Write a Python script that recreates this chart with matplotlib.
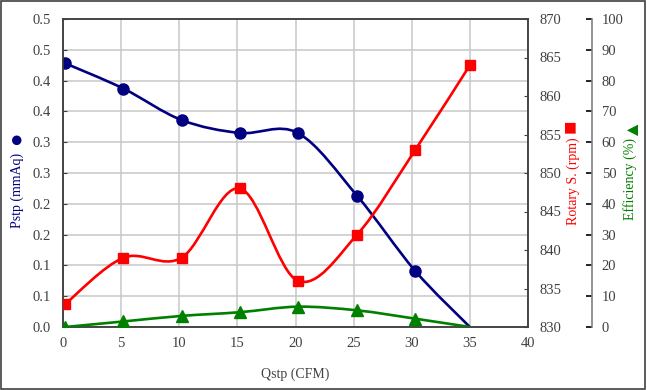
import numpy as np
import matplotlib
matplotlib.use('Agg')
import matplotlib.pyplot as plt
from matplotlib.path import Path
from matplotlib.patches import PathPatch, Rectangle

# flow (CFM)
qstp = [0.2, 5.2, 10.2, 15.2, 20.2, 25.3, 30.3, 35.0]
# static pressure (mmAq)
pstp = [0.428, 0.387, 0.336, 0.315, 0.315, 0.213, 0.091, 0.0]
# rotary speed (rpm)
rpm = [833, 839, 839, 848, 836, 842, 853, 864]
# efficiency (%)
eff = [0.0, 1.8, 3.6, 4.8, 6.6, 5.4, 2.7, 0.0]

p_ticks = [0.0, 0.05, 0.1, 0.15, 0.2, 0.25, 0.3, 0.35, 0.4, 0.45, 0.5]
p_ticklabels = ['0.0', '0.1', '0.1', '0.2', '0.2', '0.3', '0.3', '0.4', '0.4', '0.5', '0.5']
rpm_ticks = [830, 835, 840, 845, 850, 855, 860, 865, 870]
eff_ticks = [0, 10, 20, 30, 40, 50, 60, 70, 80, 90, 100]
q_ticks = [0, 5, 10, 15, 20, 25, 30, 35, 40]

NAVY = '#000080'
RED = '#ff0000'
GREEN = '#008000'
GREY = '#404040'
W, H = 647, 390

plt.rcParams['font.family'] = ['Liberation Serif', 'DejaVu Sans']


def smooth_line(ax, x, y, color):
    # excel-like smoothed line: cubic bezier segments through the points
    pts = np.column_stack([x, y]).astype(float)
    n = len(pts)
    verts = [pts[0]]
    codes = [Path.MOVETO]
    for i in range(n - 1):
        p0 = pts[max(i - 1, 0)]
        p1 = pts[i]
        p2 = pts[i + 1]
        p3 = pts[min(i + 2, n - 1)]
        verts += [p1 + (p2 - p0) / 6, p2 - (p3 - p1) / 6, p2]
        codes += [Path.CURVE4] * 3
    ax.add_patch(PathPatch(Path(verts, codes), facecolor='none',
                           edgecolor=color, lw=1.9, zorder=2))


def fig_text(x, y, s, **kw):
    # place text by pixel position (from top-left)
    fig.text(x / W, 1 - y / H, s, ha='center', va='center', rotation=90, **kw)


fig = plt.figure(figsize=(W / 100, H / 100), dpi=100)
ax1 = fig.add_axes([63 / W, 1 - 327 / H, 465 / W, 308 / H])
ax2 = ax1.twinx()
ax3 = ax1.twinx()

# no marker drawn on the last (zero) point of pressure and efficiency
smooth_line(ax1, qstp, pstp, NAVY)
ax1.plot(qstp, pstp, 'o', color=NAVY, ms=8, zorder=3, markevery=slice(0, -1))
smooth_line(ax2, qstp, rpm, RED)
ax2.plot(qstp, rpm, 's', color=RED, ms=7.5, zorder=3)
smooth_line(ax3, qstp, eff, GREEN)
ax3.plot(qstp, eff, '^', color=GREEN, ms=8, zorder=3, markevery=slice(0, -1))

ax1.set_xlim(0, 40)
ax1.set_ylim(0, 0.5)
ax2.set_ylim(830, 870)
ax3.set_ylim(0, 100)

ax1.set_xticks(q_ticks)
ax1.set_yticks(p_ticks)
ax1.set_yticklabels(p_ticklabels)
ax2.set_yticks(rpm_ticks)
ax3.set_yticks(eff_ticks)

ax1.grid(True, color='#c8c8c8', lw=1.1)
ax1.set_axisbelow(True)

ax1.tick_params(axis='x', direction='in', length=0, pad=7, labelsize=10.5, labelcolor=GREY)
ax1.tick_params(axis='y', direction='in', length=3, pad=9, labelsize=10.5, labelcolor=GREY, color=GREY)
ax2.tick_params(axis='y', direction='in', length=3, pad=8, labelsize=10.5, labelcolor=GREY, color=GREY)
ax3.tick_params(axis='y', direction='in', length=4, width=1.2, pad=7, labelsize=10.5, labelcolor=GREY, color='black')

for ax in (ax1, ax2):
    for s in ax.spines.values():
        s.set_color(GREY)
        s.set_linewidth(1.1)
ax3.spines['right'].set_position(('axes', (592 - 63) / 465))
ax3.spines['right'].set_color('#808080')
ax3.spines['right'].set_linewidth(1.2)
for side in ('left', 'top', 'bottom'):
    ax3.spines[side].set_visible(False)

ax1.set_xlabel('Qstp (CFM)', fontsize=10, color=GREY)
ax1.xaxis.set_label_coords(0.5, -(368 - 327) / 308)

# axis titles with their series symbol
fig_text(17, 190, 'Pstp (mmAq)', fontsize=10, color=NAVY)
fig_text(17.5, 138, '\u25cf', fontsize=16, color=NAVY)
fig_text(573, 181, 'Rotary S. (rpm)', fontsize=10, color=RED)
fig_text(571, 126, '\u25a0', fontsize=16, color=RED)
fig_text(630, 179, 'Efficiency (%)', fontsize=10, color=GREEN)
fig_text(631, 126, '\u25b2', fontsize=14, color=GREEN)

fig.add_artist(Rectangle((0.002, 0.003), 0.995, 0.994, transform=fig.transFigure,
                         fill=False, edgecolor=GREY, lw=1.2))

fig.savefig('out.png', dpi=100)
